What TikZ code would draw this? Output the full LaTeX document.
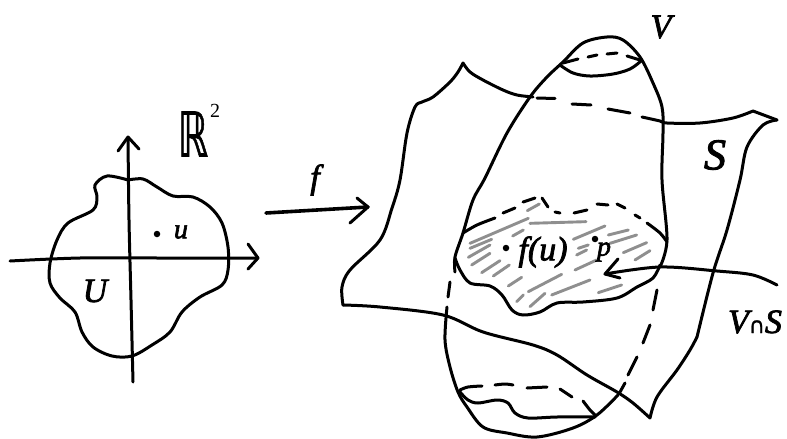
\documentclass[tikz,border=0pt]{standalone}
\usepackage{fontspec}
\newfontfamily\handf[ItalicFeatures={FakeBold=2.2}]{Liberation Serif}
\newfontfamily\handr[FakeBold=1.2]{DejaVu Sans}
\newcommand{\ink}[2][]{\draw[inkline,#1] plot[smooth,tension=0.55] coordinates {#2};}
\tikzset{
  inkline/.style={line width=3pt,line cap=round,line join=round,black},
  hatch/.style={line width=2.9pt,line cap=round,draw=black!44},
  hand/.style={inner sep=0pt,font=\handf\itshape\fontsize{34}{36}\selectfont},
  handsmall/.style={inner sep=0pt,font=\handf\itshape\fontsize{28}{30}\selectfont},
  inkdot/.style={circle,fill=black,inner sep=0pt,minimum size=6.5pt}
}
\begin{document}
\begin{tikzpicture}[x=1pt,y=-1pt]
\useasboundingbox (0,0) rectangle (787,439);
% ---- left: the plane
\ink{(128,180) (143,179) (157,187) (173,196) (193,197) (210,207) (222,223) (228,247) (228,270) (222,285) (200,297) (182,312) (170,332) (152,345) (132,356) (112,356) (93,347) (82,332) (75,312) (60,298) (50,283) (50,263) (57,240) (68,223) (93,210) (97,197) (95,185) (107,176) (128,180)}
\ink{(133,382) (131,300) (129,220) (128,138)}
\ink{(10,261) (80,258) (160,258) (258,258)}
\draw[inkline] (118,151) -- (128,137) -- (139,149);
\draw[inkline] (248,244) -- (258,258) -- (248,269);
\node[inkdot] (dotu) at (157,234) {};
\node[handsmall] (u) at (181,232) {u};
\node[hand] (U) at (95,291) {U};
\node[inner sep=0pt,xscale=0.62,font=\handr\fontsize{62}{64}\selectfont] (R) at (193,134) {ℝ};
\node[font=\handf\fontsize{20}{22}\selectfont,inner sep=0pt] (two) at (215,111) {2};
% ---- the map
\node[hand] (f) at (315,180) {f};
\coordinate (fa) at (266,213);
\coordinate (fb) at (368,207);
\draw[inkline,line width=3.6pt] (fa) -- (fb);
\draw[inkline] (357,198) -- (368,207) -- (350,223);
% ---- hatching of the shaded region (crop coordinates, x/3+440, y/3+180)
\begin{scope}[shift={(440,180)},x=0.3333pt,y=-0.3333pt]
\foreach \xa/\ya/\xb/\yb in {
 90/190/265/115, 270/130/438/125, 262/92/298/72, 218/168/250/150,
 90/205/155/178, 85/232/150/195, 95/255/150/220, 125/278/180/242,
 160/288/208/255, 205/318/245/292, 265/335/365/283, 230/365/250/345,
 270/380/315/340, 335/345/450/300, 475/338/545/315, 405/270/470/240,
 410/225/440/210, 415/205/445/195, 400/178/495/138, 505/165/565/150,
 510/190/590/165, 550/218/620/188, 585/240/630/212}
  {\draw[hatch] (\xa,\ya) -- (\xb,\yb);}
\end{scope}
% ---- the surface S
\ink{(343,305) (342,287) (350,270) (380,240) (392,208) (400,180) (407,133) (415,107) (422,102) (433,97) (450,82) (458,72) (463,63)}
\ink{(463,63) (470,72) (483,80) (503,90) (517,95) (533,97)}
\ink{(642,117) (660,121) (667,123) (700,123) (733,118) (753,111)}
\draw[inkline] (753,111) -- (777,120);
\ink{(777,120) (763,125) (747,147) (740,180) (727,230) (713,273) (697,337)}
\ink{(697,337) (690,350) (677,370) (657,397) (650,418)}
\ink{(343,305) (380,307) (443,315) (483,332) (533,345) (557,355) (587,375) (617,392) (633,403) (650,418)}
\draw[inkline] (537,98) -- (555,98.5);
\draw[inkline] (572,104) -- (591,105);
\draw[inkline] (608,109) -- (630,113);
% ---- the body V
\ink{(455,272) (455,257) (463,233) (473,200) (485,178) (507,133) (530,97) (547,77) (563,62) (583,43) (607,37) (623,40) (640,57) (653,83) (662,107) (663,133) (662,180) (667,240) (660,267)}
\draw[inkline] (450,282) -- (448,297);
\ink{(447,307) (445,340) (450,367) (458,392) (467,407) (483,427) (507,433) (537,437) (573,428) (597,415) (618,395)}
\draw[inkline] (657,290) -- (653,310);
\draw[inkline] (650,325) -- (643,343);
\draw[inkline] (637,357) -- (628,375);
\draw[inkline] (625,383) -- (620,392);
% top cap
\ink{(560,65) (573,73) (590,76) (613,74) (630,69) (641,61)}
\draw[inkline] (563,63) -- (578,59);
\draw[inkline] (588,57) -- (597,55);
\draw[inkline] (607,54) -- (617,53);
\draw[inkline] (627,56) -- (640,60);
% bottom cap
\ink{(460,392) (468,400) (478,403) (497,400) (508,403) (515,413) (528,418) (557,417) (595,417)}
\ink{(460,390) (468,387) (482,386)}
\ink{(495,385) (505,384) (513,385)}
\draw[inkline] (527,388) -- (547,387);
\draw[inkline] (560,389) -- (572,397);
\ink{(583,401) (590,410) (595,415)}
% ---- the region V cap S
\ink{(455,258) (460,270) (470,283) (490,286) (502,295) (512,310) (523,315) (540,312) (557,303) (583,302) (617,298) (637,287) (653,278) (660,265)}
\ink{(463,233) (477,225) (495,218)}
\draw[inkline] (503,213) -- (515,208);
\draw[inkline] (523,202) -- (535,198);
\draw[inkline] (542,198) -- (548,207);
\draw[inkline] (555,212) -- (560,213);
\draw[inkline] (574,213) -- (587,210);
\draw[inkline] (597,204) -- (608,205);
\draw[inkline] (617,204) -- (625,208);
\draw[inkline] (635,215) -- (640,218);
\ink{(647,223) (660,233) (667,242)}
% ---- labels in the region
\node[inkdot] (dotf) at (506,248) {};
\node[hand] (fu) at (543,252) {f(u)};
\node[inkdot] (dotp) at (595,239) {};
\node[handsmall] (p) at (604,252) {p};
\coordinate (arrowstart) at (777,285);
\coordinate (arrowtip) at (605,274);
\draw[inkline] plot[smooth,tension=0.55] coordinates {(arrowstart) (753,275) (717,271) (660,267) (arrowtip)};
\draw[inkline] (618,259) -- (arrowtip) -- (620,278);
% ---- names
\node[hand] (V) at (661,27) {V};
\node[hand,font=\handf\itshape\fontsize{44}{46}\selectfont] (S) at (715,155) {S};
\node[hand] (VS) at (755,322) {V{\handr\fontsize{22}{24}\selectfont ∩}S};
\end{tikzpicture}
\end{document}
